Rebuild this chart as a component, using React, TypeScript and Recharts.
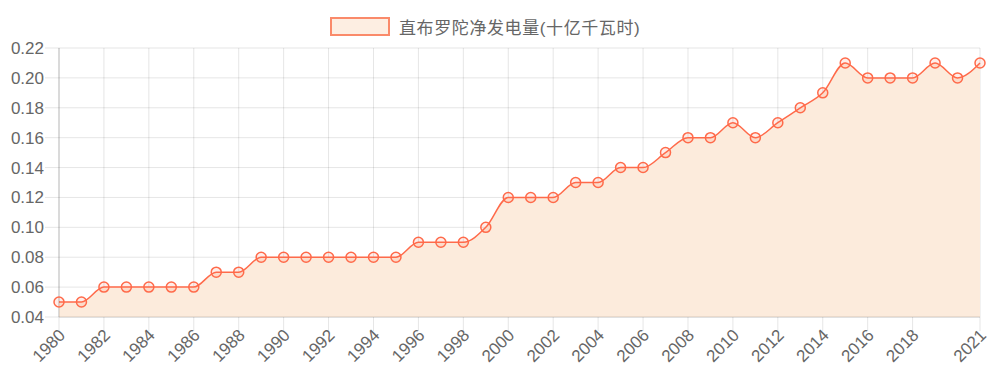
import { AreaChart, Area, XAxis, YAxis, CartesianGrid } from 'recharts';

const years = [
  1980, 1981, 1982, 1983, 1984, 1985, 1986, 1987, 1988, 1989, 1990, 1991, 1992, 1993,
  1994, 1995, 1996, 1997, 1998, 1999, 2000, 2001, 2002, 2003, 2004, 2005, 2006, 2007,
  2008, 2009, 2010, 2011, 2012, 2013, 2014, 2015, 2016, 2017, 2018, 2019, 2020, 2021,
];
const generation = [
  0.05, 0.05, 0.06, 0.06, 0.06, 0.06, 0.06, 0.07, 0.07, 0.08, 0.08, 0.08, 0.08, 0.08,
  0.08, 0.08, 0.09, 0.09, 0.09, 0.1, 0.12, 0.12, 0.12, 0.13, 0.13, 0.14, 0.14, 0.15,
  0.16, 0.16, 0.17, 0.16, 0.17, 0.18, 0.19, 0.21, 0.2, 0.2, 0.2, 0.21, 0.2, 0.21,
];
const xTicks = [
  1980, 1982, 1984, 1986, 1988, 1990, 1992, 1994, 1996, 1998, 2000, 2002, 2004, 2006,
  2008, 2010, 2012, 2014, 2016, 2018, 2021,
];
const yTicks = [0.04, 0.06, 0.08, 0.1, 0.12, 0.14, 0.16, 0.18, 0.2, 0.22];
const seriesName = '直布罗陀净发电量(十亿千瓦时)';

const data = years.map((y, i) => ({ year: y, value: generation[i] }));

const FONT = 'Arial, "Liberation Sans", "Noto Sans CJK SC", sans-serif';
const LINE = '#ff6a4a';
const FILL = '#fcebdc';
const GRID = 'rgba(0,0,0,0.1)';

function XTick(props: any) {
  const { x, y, payload } = props;
  const tx = x + 3;
  const ty = y - 1;
  return (
    <text
      x={tx}
      y={ty}
      dy="0.35em"
      textAnchor="end"
      fill="#666"
      fontSize={17}
      fontFamily={FONT}
      transform={`rotate(-45, ${tx}, ${ty})`}
    >
      {payload.value}
    </text>
  );
}

export default function App() {
  return (
    <div style={{ position: 'absolute', left: 0, top: 0, width: 990, height: 390, background: '#fff' }}>
      <div
        style={{
          position: 'absolute',
          top: 14,
          left: 330,
          display: 'flex',
          alignItems: 'center',
          fontFamily: FONT,
          fontSize: 17,
          letterSpacing: 0.6,
          color: '#666',
          whiteSpace: 'nowrap',
        }}
      >
        <span
          style={{
            display: 'inline-block',
            width: 56,
            height: 15,
            background: '#fdeee2',
            border: '2px solid #fa8a6a',
            marginRight: 9,
          }}
        />
        <span>{seriesName}</span>
      </div>
      <AreaChart
        width={990}
        height={390}
        data={data}
        margin={{ top: 48, right: 10, bottom: 0, left: 0 }}
      >
        <CartesianGrid stroke={GRID} strokeWidth={1} />
        <XAxis
          dataKey="year"
          type="number"
          domain={[1980, 2021]}
          ticks={xTicks}
          interval={0}
          height={73}
          tick={<XTick />}
          tickLine={{ stroke: GRID }}
          tickSize={14}
          axisLine={{ stroke: 'rgba(0,0,0,0.15)' }}
        />
        <YAxis
          domain={[0.04, 0.22]}
          ticks={yTicks}
          interval={0}
          width={59}
          tickFormatter={(v: number) => v.toFixed(2)}
          tick={{ fontSize: 17, fill: '#666', fontFamily: FONT }}
          tickLine={{ stroke: GRID }}
          tickSize={14}
          tickMargin={1}
          axisLine={{ stroke: 'rgba(0,0,0,0.2)' }}
        />
        <Area
          type="monotone"
          dataKey="value"
          stroke={LINE}
          strokeWidth={1.5}
          fill={FILL}
          fillOpacity={1}
          dot={{ r: 5, stroke: LINE, strokeWidth: 1.5, fill: 'rgba(255,106,74,0.12)' }}
          isAnimationActive={false}
        />
      </AreaChart>
    </div>
  );
}
